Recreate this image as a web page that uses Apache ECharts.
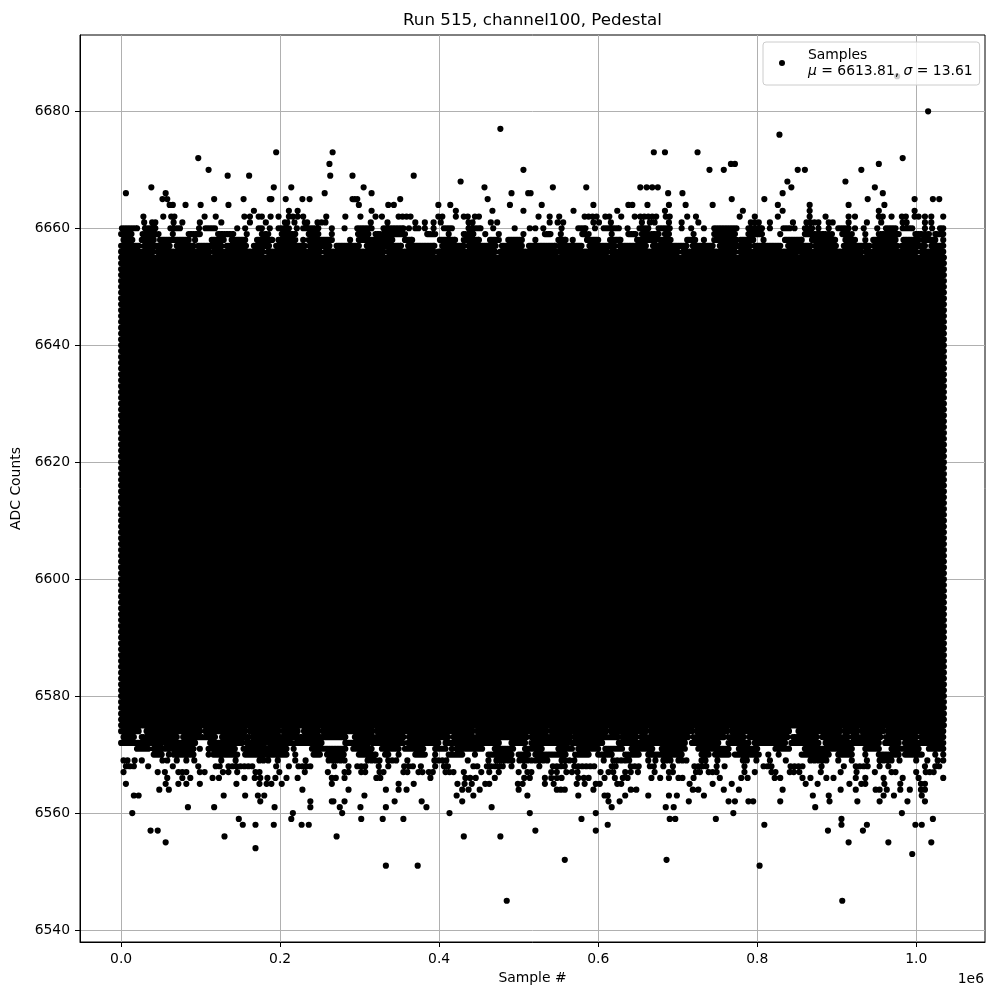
<!DOCTYPE html>
<html><head><meta charset="utf-8">
<script src="https://cdn.jsdelivr.net/npm/echarts@6/dist/echarts.min.js"></script>
<style>html,body{margin:0;padding:0;background:#fff}#c{width:1000px;height:1000px}</style>
</head><body><div id="c"></div>
<script>
// ---------------- data (x in thousands of samples, y in ADC counts) ----------------
const titleText = 'Run 515, channel100, Pedestal';
const xLimits = [-51740, 1086540];
const yLimits = [6537.95, 6693.05];
const xTickValues = [0, 200000, 400000, 600000, 800000, 1000000];
const yTickValues = [6540, 6560, 6580, 6600, 6620, 6640, 6660, 6680];
const meanADC = 6613.81;
const sigmaADC = 13.61;
const firstSampleK = 0;
const lastSampleK = 1034.8;
const denseStepK = 2;

// rows where every sample column is occupied
const solidRowLevels = [6575,6576,6577,6578,6579,6580,6581,6582,6583,6584,6585,6586,6587,6588,6589,6590,
  6591,6592,6593,6594,6595,6596,6597,6598,6599,6600,6601,6602,6603,6604,6605,6606,6607,6608,6609,6610,
  6611,6612,6613,6614,6615,6616,6617,6618,6619,6620,6621,6622,6623,6624,6625,6626,6627,6628,6629,6630,
  6631,6632,6633,6634,6635,6636,6637,6638,6639,6640,6641,6642,6643,6644,6645,6646,6647,6648,6649,6650,
  6651,6652,6653,6654,6655];

// partially filled rows: occupied runs [fromK, toK]
const edgeRowLevels = [6660, 6659, 6658, 6657, 6656, 6574, 6573, 6572, 6571, 6570];
const edgeRowSegments = [
  [[1,20],[30,43],[62,74],[98,98],[106,118],[146,146],[156,156],[173,177],[187,187],[198,211],[221,221],[229,248],[265,265],[281,281],[297,315],[330,355],[362,362],[370,374],[382,382],[393,393],[406,416],[437,452],[468,468],[495,495],[514,514],[521,521],[531,531],[554,554],[575,584],[596,596],[607,626],[637,637],[652,663],[676,690],[705,705],[717,717],[733,733],[746,774],[789,806],[816,816],[833,841],[847,847],[860,869],[877,877],[890,890],[902,915],[923,923],[934,934],[951,951],[962,974],[983,995],[1011,1011],[1020,1020],[1030,1034]],
  [[0,13],[27,47],[65,65],[85,99],[122,141],[158,158],[177,185],[202,219],[236,248],[265,265],[298,311],[320,357],[385,395],[412,412],[431,443],[458,458],[475,475],[506,506],[533,540],[553,553],[580,588],[617,617],[638,647],[655,676],[684,689],[720,720],[746,772],[789,806],[829,829],[860,894],[907,919],[936,936],[953,978],[999,1016],[1024,1034]],
  [[3,14],[26,41],[49,85],[93,93],[114,129],[139,156],[171,190],[198,219],[229,229],[236,265],[288,288],[299,341],[357,366],[401,420],[431,450],[464,475],[487,504],[521,521],[550,559],[568,568],[586,600],[615,628],[649,672],[678,691],[712,722],[733,733],[746,774],[779,795],[808,808],[835,856],[869,898],[911,923],[936,936],[946,974],[984,1003],[1009,1024],[1034,1034]],
  [[0,22],[29,61],[70,91],[97,126],[133,157],[167,186],[195,231],[237,262],[271,299],[309,352],[361,394],[404,431],[437,471],[479,504],[513,546],[551,579],[589,621],[627,660],[669,711],[719,744],[753,791],[797,829],[839,867],[873,899],[909,941],[947,976],[982,1011],[1019,1034]],
  [[0,40],[46,111],[117,178],[185,250],[257,330],[336,393],[399,470],[477,548],[553,611],[617,700],[707,772],[779,850],[855,931],[937,1000],[1007,1034]],
  [[0,22],[32,99],[106,156],[162,198],[204,222],[230,248],[254,316],[322,442],[448,535],[541,610],[616,660],[666,718],[724,762],[768,840],[852,904],[910,926],[932,958],[964,1034]],
  [[3,16],[26,70],[78,118],[127,160],[165,215],[219,282],[294,355],[362,411],[418,510],[516,565],[570,625],[630,648],[654,713],[720,758],[764,783],[790,838],[845,875],[882,914],[920,955],[962,1000],[1006,1034]],
  [[0,51],[56,93],[112,152],[158,181],[186,215],[219,252],[282,311],[316,355],[361,399],[408,475],[491,508],[516,562],[567,605],[626,709],[718,751],[764,789],[797,835],[843,877],[886,919],[923,953],[961,978],[986,1034]],
  [[20,34],[41,91],[99,99],[110,143],[154,208],[217,217],[240,282],[292,315],[328,349],[357,380],[395,408],[416,416],[422,454],[470,493],[508,529],[550,567],[575,600],[609,630],[642,668],[680,709],[726,764],[777,800],[823,840],[860,919],[936,953],[969,1003],[1016,1034]],
  [[41,51],[60,60],[66,91],[110,110],[116,146],[156,208],[219,219],[242,250],[259,280],[299,320],[332,336],[349,349],[370,382],[395,395],[412,429],[445,445],[462,491],[500,512],[521,559],[571,588],[600,617],[634,651],[663,705],[730,739],[747,764],[772,802],[814,814],[827,827],[856,890],[902,919],[936,936],[953,978],[986,1007],[1024,1024],[1034,1034]]
];

// isolated samples: [ADC level, [sample positions in thousands]]
const sparseRows = [
  [6686, [976]],
  [6680, [1015]],
  [6677, [477]],
  [6676, [828]],
  [6673, [195, 266, 670, 684, 725]],
  [6672, [97, 983]],
  [6671, [262, 767, 772, 953]],
  [6670, [110, 506, 740, 758, 851, 860, 931]],
  [6669, [134, 161, 263, 291, 368]],
  [6668, [427, 838, 911]],
  [6667, [38, 192, 214, 305, 457, 543, 585, 653, 661, 668, 675, 843, 948]],
  [6666, [6, 56, 256, 315, 491, 512, 515, 688, 706, 832, 958]],
  [6665, [52, 58, 117, 154, 187, 189, 207, 228, 237, 291, 294, 297, 351, 461, 768, 809, 939, 998, 1021, 1029]],
  [6664, [61, 65, 81, 100, 135, 299, 336, 343, 399, 414, 489, 529, 594, 638, 643, 662, 689, 710, 744, 826, 866, 915, 960]],
  [6663, [167, 211, 222, 315, 421, 467, 506, 569, 624, 684, 782, 832, 866, 953, 998]],
  [6662, [28, 53, 63, 67, 105, 119, 155, 162, 173, 177, 188, 198, 211, 216, 222, 229, 258, 282, 301, 320, 328, 349, 354, 359, 364, 399, 404, 421, 431, 436, 445, 450, 525, 539, 551, 583, 588, 593, 598, 609, 614, 629, 646, 653, 658, 663, 668, 673, 685, 690, 712, 723, 778, 797, 826, 866, 886, 915, 923, 953, 958, 969, 982, 987, 998, 1003, 1011, 1019, 1034]],
  [6661, [29, 39, 43, 66, 77, 99, 126, 162, 182, 206, 209, 218, 231, 234, 247, 252, 257, 314, 335, 370, 382, 393, 402, 437, 442, 465, 473, 539, 549, 556, 594, 601, 616, 655, 665, 671, 689, 705, 726, 792, 797, 802, 816, 845, 862, 867, 872, 877, 890, 895, 915, 938, 956, 983, 988, 1011, 1019]],
  [6569, [3, 8, 17, 26, 52, 58, 70, 82, 92, 126, 144, 174, 179, 185, 197, 219, 232, 261, 266, 271, 276, 281, 310, 315, 320, 325, 336, 341, 346, 360, 394, 399, 404, 409, 436, 462, 472, 477, 482, 487, 492, 501, 506, 511, 516, 521, 526, 531, 536, 554, 559, 564, 570, 607, 619, 624, 629, 634, 639, 663, 672, 682, 686, 691, 701, 706, 711, 730, 735, 750, 782, 787, 799, 816, 836, 867, 872, 877, 882, 887, 902, 919, 938, 954, 959, 964, 969, 979, 1000, 1014, 1027, 1034]],
  [6568, [6, 11, 16, 34, 65, 97, 119, 124, 135, 140, 145, 150, 155, 160, 165, 195, 211, 223, 228, 233, 238, 268, 286, 297, 302, 307, 324, 336, 356, 362, 367, 377, 395, 406, 411, 443, 448, 460, 465, 470, 475, 480, 491, 507, 526, 543, 548, 553, 558, 570, 575, 580, 585, 590, 595, 617, 622, 641, 646, 651, 665, 670, 682, 694, 721, 726, 731, 736, 749, 759, 784, 808, 813, 818, 842, 847, 852, 857, 881, 909, 924, 929, 934, 939, 954, 965, 1011, 1024, 1029]],
  [6567, [3, 46, 55, 72, 77, 82, 99, 105, 128, 135, 146, 169, 174, 199, 231, 260, 281, 286, 302, 307, 325, 330, 355, 360, 374, 379, 387, 392, 408, 413, 418, 431, 453, 463, 475, 500, 511, 516, 541, 548, 560, 567, 574, 603, 613, 619, 634, 641, 650, 671, 689, 694, 723, 728, 739, 744, 749, 784, 797, 818, 823, 841, 846, 853, 880, 905, 925, 948, 969, 974, 1000, 1012, 1017, 1022]],
  [6566, [58, 77, 87, 115, 123, 155, 168, 175, 184, 194, 208, 222, 265, 270, 281, 321, 326, 389, 433, 439, 446, 470, 507, 514, 533, 541, 548, 554, 575, 582, 588, 608, 621, 631, 637, 667, 678, 689, 701, 706, 720, 753, 780, 788, 822, 829, 857, 867, 887, 896, 924, 936, 959, 983, 1003, 1034]],
  [6565, [6, 56, 72, 82, 99, 145, 174, 183, 189, 202, 265, 349, 368, 423, 432, 441, 458, 463, 499, 505, 533, 544, 573, 583, 597, 602, 624, 629, 715, 744, 768, 861, 876, 916, 931, 936, 960, 980, 1006, 1011]],
  [6564, [48, 60, 228, 286, 333, 349, 359, 429, 437, 451, 500, 548, 553, 558, 594, 641, 648, 719, 726, 758, 777, 832, 905, 924, 949, 954, 963, 980, 992, 1006, 1011]],
  [6563, [16, 22, 129, 156, 172, 180, 306, 422, 443, 511, 575, 608, 612, 634, 663, 689, 699, 733, 870, 890, 959, 972, 1007]],
  [6562, [175, 238, 265, 267, 281, 344, 378, 429, 613, 627, 714, 764, 772, 789, 795, 829, 891, 926, 954, 989, 1011]],
  [6561, [84, 117, 193, 238, 275, 301, 333, 384, 466, 617, 685, 695, 873]],
  [6560, [14, 216, 278, 413, 514, 597, 770, 982]],
  [6559, [148, 214, 302, 329, 355, 579, 690, 697, 748, 906, 1021]],
  [6558, [153, 169, 192, 227, 236, 612, 809, 906, 938, 999, 1007]],
  [6557, [37, 46, 521, 597, 889, 933]],
  [6556, [130, 271, 431, 477]],
  [6555, [56, 915, 965, 1019]],
  [6554, [169]],
  [6553, [995]],
  [6552, [558, 686]],
  [6551, [333, 373, 803]],
  [6545, [485, 907]]
];

// ---------------- build points ----------------
const points = [];
function addRun(level, a, b) {
  let x = a, last = null;
  while (x <= b + 1e-9) { points.push([x * 1000, level]); last = x; x += denseStepK; }
  if (last === null || last < b - 0.5) points.push([b * 1000, level]);
}
solidRowLevels.forEach(lv => addRun(lv, firstSampleK, lastSampleK));
edgeRowLevels.forEach((lv, i) => edgeRowSegments[i].forEach(s => addRun(lv, s[0], s[1])));
sparseRows.forEach(r => r[1].forEach(x => points.push([x * 1000, r[0]])));

const FONT = 'DejaVu Sans';
const chart = echarts.init(document.getElementById('c'), null, {renderer: 'canvas'});
const axisCommon = (ticks, fmt) => ({
  type: 'value',
  axisLine: {show: true, onZero: false, lineStyle: {color: '#000', width: 1}},
  axisTick: {show: true, inside: false, length: 5, customValues: ticks, lineStyle: {color: '#000', width: 1}},
  axisLabel: {show: true, customValues: ticks, margin: 10, formatter: fmt, fontFamily: FONT, fontSize: 13.9, color: '#000'},
  splitLine: {show: true, lineStyle: {color: '#b0b0b0', width: 1}},
  nameLocation: 'middle',
  nameTextStyle: {fontFamily: FONT, fontSize: 13.9, color: '#000'}
});
const xAx = Object.assign(axisCommon(xTickValues, v => (v / 1e6).toFixed(1)), {min: xLimits[0], max: xLimits[1], name: 'Sample #', nameGap: 28});
const yAx = Object.assign(axisCommon(yTickValues, v => String(v)), {min: yLimits[0], max: yLimits[1], name: 'ADC Counts', nameGap: 45});

chart.setOption({
  animation: false,
  backgroundColor: '#fff',
  title: {text: titleText, left: 532.5, top: 12, textAlign: 'center', padding: 0,
    textStyle: {fontFamily: FONT, fontSize: 16.7, fontWeight: 'normal', color: '#000'}},
  grid: {left: 80, right: 15, top: 35, bottom: 58, show: true, borderColor: '#000', borderWidth: 1, backgroundColor: 'transparent'},
  xAxis: xAx,
  yAxis: yAx,
  legend: {show: true, data: ['Samples'], left: 763, top: 42, orient: 'vertical', padding: [5, 7, 6, 16],
    itemWidth: 6, itemHeight: 6, icon: 'circle', selectedMode: false, z: 4,
    backgroundColor: 'rgba(255,255,255,0.8)', borderColor: '#cccccc', borderWidth: 1, borderRadius: 3,
    formatter: () => 'Samples\n{i|μ} = ' + meanADC.toFixed(2) + ', {i|σ} = ' + sigmaADC.toFixed(2),
    textStyle: {fontFamily: FONT, fontSize: 13.9, color: '#000', lineHeight: 16, padding: [0, 0, 0, 18],
      rich: {i: {fontFamily: FONT, fontStyle: 'italic', fontSize: 13.9, color: '#000', lineHeight: 16}}}},
  graphic: [
    {type: 'text', z: 10, silent: true, x: 984, y: 979,
      style: {text: '1e6', fontFamily: FONT, fontSize: 13.9, fill: '#000', align: 'right', verticalAlign: 'middle', textAlign: 'right', textVerticalAlign: 'middle'}}
  ],
  series: [{
    name: 'Samples', type: 'scatter', data: points, symbol: 'circle', symbolSize: 6.2,
    itemStyle: {color: '#000', opacity: 1}, large: true, largeThreshold: 2000,
    progressive: 0, progressiveThreshold: 100000000, silent: true, z: 2
  }]
});
</script></body></html>
